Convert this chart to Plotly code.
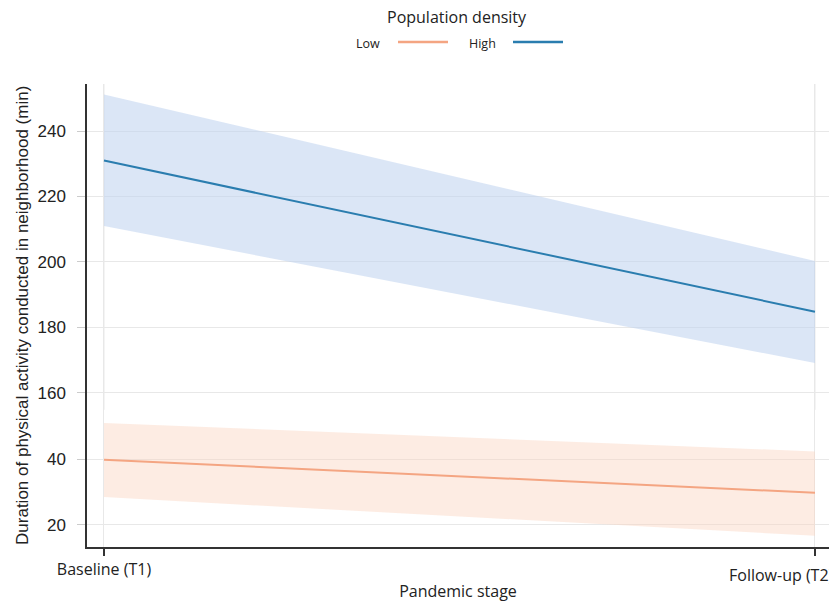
import plotly.graph_objects as go

# ---- data ----
stages = ["Baseline (T1)", "Follow-up (T2)"]
stage_pos = [0, 1]

low_mean = [39.8, 29.7]
low_upper = [51.0, 42.3]
low_lower = [28.4, 16.6]

high_mean = [231.0, 184.8]
high_upper = [251.2, 200.3]
high_lower = [211.0, 169.1]

y_ticks_low = [20, 40]
y_ticks_high = [160, 180, 200, 220, 240]

LOW_LINE = "#f4a582"
LOW_FILL = "rgba(250,213,192,0.45)"
HIGH_LINE = "#2a7daf"
HIGH_FILL = "rgba(190,210,238,0.55)"

fig = go.Figure()

def band(x, lo, hi, fill, yaxis):
    fig.add_trace(go.Scatter(x=x, y=hi, mode="lines", line=dict(width=0),
                             hoverinfo="skip", showlegend=False, yaxis=yaxis))
    fig.add_trace(go.Scatter(x=x, y=lo, mode="lines", line=dict(width=0),
                             fill="tonexty", fillcolor=fill,
                             hoverinfo="skip", showlegend=False, yaxis=yaxis))

band(stage_pos, high_lower, high_upper, HIGH_FILL, "y")
fig.add_trace(go.Scatter(x=stage_pos, y=high_mean, mode="lines",
                         line=dict(color=HIGH_LINE, width=2), name="High",
                         showlegend=False, yaxis="y"))
band(stage_pos, low_lower, low_upper, LOW_FILL, "y2")
fig.add_trace(go.Scatter(x=stage_pos, y=low_mean, mode="lines",
                         line=dict(color=LOW_LINE, width=2), name="Low",
                         showlegend=False, yaxis="y2"))

split = 0.2963
grid = "#e8e8e8"
axis_font = dict(family="Liberation Sans, Arial, sans-serif", size=17, color="#222")
x_font = dict(family="Open Sans, sans-serif", size=16, color="#222")
xr = [-0.0239, 1.0197]

fig.update_layout(
    width=829, height=602,
    margin=dict(l=87, r=0, t=84, b=55, autoexpand=False),
    paper_bgcolor="white", plot_bgcolor="white",
    xaxis=dict(range=xr, tickvals=stage_pos, ticktext=[stages[0], ""],
               anchor="y2", showgrid=True, gridcolor=grid, gridwidth=1,
               showline=True, linecolor="#333", linewidth=1.5,
               ticks="outside", ticklen=7, tickcolor="#333", tickwidth=1.5,
               zeroline=False, automargin=False,
               tickfont=x_font,
               title=dict(text="Pandemic stage", standoff=11, font=x_font)),
    xaxis2=dict(range=xr, tickvals=stage_pos, anchor="y",
                overlaying="x", side="top", showticklabels=False,
                showgrid=False, showline=True, linecolor="#333", linewidth=1.5,
                ticks="outside", ticklen=7, tickcolor="#333", tickwidth=1.5,
                zeroline=False, automargin=False),
    yaxis=dict(domain=[split, 1], range=[154.8, 254.4], tickvals=y_ticks_high,
               showgrid=True, gridcolor=grid, zeroline=False,
               showline=True, linecolor="#333", linewidth=1.5,
               ticks="outside", ticklen=8, tickcolor="#cccccc",
               ticklabelstandoff=8,
               tickfont=axis_font, automargin=False),
    yaxis2=dict(domain=[0, split], range=[13.2, 55.0], tickvals=y_ticks_low,
                showgrid=True, gridcolor=grid, zeroline=False,
                showline=True, linecolor="#333", linewidth=1.5,
                ticks="outside", ticklen=8, tickcolor="#cccccc",
                ticklabelstandoff=8,
                tickfont=axis_font, automargin=False),
    showlegend=False,
)

# second stage label (the original is pushed left against the right edge)
fig.add_annotation(text=stages[1], xref="x", yref="paper", x=stage_pos[1],
                   xshift=-88, y=-0.0605, xanchor="left", yanchor="middle",
                   showarrow=False, font=x_font)

# vertical gridlines across the top panel too
for xv in stage_pos:
    fig.add_shape(type="line", xref="x", yref="paper", x0=xv, x1=xv,
                  y0=split, y1=1, line=dict(color=grid, width=1), layer="below")

# y-axis title spanning both panels
fig.add_annotation(text="Duration of physical activity conducted in neighborhood (min)",
                   xref="paper", yref="paper", x=-0.087, y=0.5, xanchor="center",
                   yanchor="middle", textangle=-90, showarrow=False,
                   font=dict(family="Liberation Sans, Arial, sans-serif", size=17, color="#222"))

# legend (title, labels, line samples)
leg_font = dict(family="Open Sans, sans-serif", size=12.5, color="#222")
fig.add_annotation(text="Population density", xref="paper", yref="paper",
                   x=(457 - 87) / 742, y=(547 - 17) / 463, xanchor="center",
                   yanchor="middle", showarrow=False,
                   font=dict(family="Open Sans, sans-serif", size=16, color="#222"))
for label, col, tx, lx0, lx1 in [("Low", LOW_LINE, 368, 398, 448),
                                  ("High", HIGH_LINE, 482, 513, 563)]:
    fig.add_annotation(text=label, xref="paper", yref="paper",
                       x=(tx - 87) / 742, y=(547 - 43) / 463, xanchor="center",
                       yanchor="middle", showarrow=False, font=leg_font)
    fig.add_shape(type="line", xref="paper", yref="paper",
                  x0=(lx0 - 87) / 742, x1=(lx1 - 87) / 742,
                  y0=(547 - 42) / 463, y1=(547 - 42) / 463,
                  line=dict(color=col, width=2.5))

fig.write_html("out.html", config={"displayModeBar": False},
               post_script="document.body.style.margin='0';document.body.style.overflow='hidden';")
